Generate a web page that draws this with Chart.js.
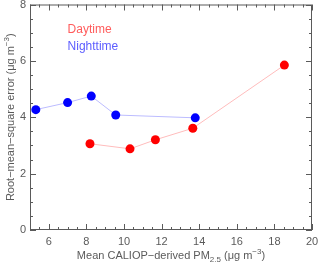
<!DOCTYPE html>
<html>
<head>
<meta charset="utf-8">
<script src="https://cdn.jsdelivr.net/npm/chart.js@4.4.0/dist/chart.umd.js"></script>
<style>
  html, body { margin: 0; padding: 0; background: #fff; }
  #wrap { width: 320px; height: 263px; position: relative; }
</style>
</head>
<body>
<div id="wrap"><canvas id="c"></canvas></div>
<script>
// values
const dayX = [8.19, 10.32, 11.67, 13.66, 18.53];
const dayY = [3.06, 2.88, 3.20, 3.61, 5.85];
const nightX = [5.31, 7.0, 8.26, 9.56, 13.79];
const nightY = [4.27, 4.52, 4.75, 4.08, 3.98];
const xTicks = [6, 8, 10, 12, 14, 16, 18, 20];
const yTicks = [0, 2, 4, 6, 8];
const xRange = [5, 20], yRange = [0, 8];
const minorStep = 0.5;
const legendItems = [['Daytime', '#ff5c5c', 7.0, 7.1], ['Nighttime', '#5c5cff', 7.0, 6.5]];

const FONT = '"Liberation Sans", Arial, sans-serif';
const AXIS = '#5a5a5a';

const pts = (xs, ys) => xs.map((x, i) => ({ x, y: ys[i] }));

// frame, inward ticks on all four sides, legend text and axis titles
const decor = {
    id: 'decor',
    afterDraw(chart) {
        const { ctx, chartArea: a, scales: { x, y } } = chart;
        ctx.save();
        ctx.strokeStyle = AXIS; ctx.lineWidth = 1;
        ctx.strokeRect(a.left + 0.5, a.top + 0.5, a.right - a.left - 1, a.bottom - a.top - 1);
        ctx.beginPath();
        for (let v = xRange[0]; v <= xRange[1] + 1e-9; v += minorStep) {
            const px = Math.round(x.getPixelForValue(v)) + 0.5;
            const len = v % 2 === 0 ? 6 : 3;
            ctx.moveTo(px, a.bottom); ctx.lineTo(px, a.bottom - len);
            ctx.moveTo(px, a.top); ctx.lineTo(px, a.top + len);
        }
        for (let v = yRange[0]; v <= yRange[1] + 1e-9; v += minorStep) {
            const py = Math.round(y.getPixelForValue(v)) + 0.5;
            const len = v % 2 === 0 ? 6 : 3;
            ctx.moveTo(a.left, py); ctx.lineTo(a.left + len, py);
            ctx.moveTo(a.right, py); ctx.lineTo(a.right - len, py);
        }
        ctx.stroke();

        ctx.font = '12px ' + FONT; ctx.textAlign = 'left'; ctx.textBaseline = 'middle';
        legendItems.forEach(([t, c, lx, ly]) => {
            ctx.fillStyle = c;
            ctx.fillText(t, x.getPixelForValue(lx), y.getPixelForValue(ly));
        });

        // x title with sub/superscripts
        ctx.fillStyle = AXIS; ctx.textBaseline = 'alphabetic';
        const main = '11px ' + FONT, small = '8px ' + FONT;
        const parts = [['Mean CALIOP\u2212derived PM', main, 0], ['2.5', small, 3], [' (\u03bcg m', main, 0], ['\u22123', small, -5], [')', main, 0]];
        const width = (ps) => ps.reduce((s, [t, f]) => { ctx.font = f; return s + ctx.measureText(t).width; }, 0);
        let cx = (a.left + a.right) / 2 - width(parts) / 2;
        parts.forEach(([t, f, dy]) => { ctx.font = f; ctx.fillText(t, cx, 259 + dy); cx += ctx.measureText(t).width; });

        // y title, rotated
        const yparts = [['Root\u2212mean\u2212square error (\u03bcg m', main, 0], ['\u22123', small, -5], [')', main, 0]];
        ctx.translate(14, (a.top + a.bottom) / 2);
        ctx.rotate(-Math.PI / 2);
        cx = -width(yparts) / 2;
        yparts.forEach(([t, f, dy]) => { ctx.font = f; ctx.fillText(t, cx, dy); cx += ctx.measureText(t).width; });
        ctx.restore();
    }
};

new Chart(document.getElementById('c'), {
    type: 'scatter',
    data: {
        datasets: [
            { label: 'Daytime', data: pts(dayX, dayY), showLine: true, borderColor: '#ffbcbc', borderWidth: 1,
              pointBackgroundColor: '#ff0000', pointBorderColor: '#ff0000', pointRadius: 4.5, pointBorderWidth: 0 },
            { label: 'Nighttime', data: pts(nightX, nightY), showLine: true, borderColor: '#bcbcff', borderWidth: 1,
              pointBackgroundColor: '#0000ff', pointBorderColor: '#0000ff', pointRadius: 4.5, pointBorderWidth: 0 },
        ],
    },
    options: {
        responsive: true, maintainAspectRatio: false, animation: false,
        layout: { padding: { top: 3, right: 8, left: 0, bottom: 0 } },
        plugins: { legend: { display: false }, tooltip: { enabled: false } },
        scales: {
            x: {
                type: 'linear', min: xRange[0], max: xRange[1],
                afterBuildTicks: (s) => { s.ticks = xTicks.map((v) => ({ value: v })); },
                afterFit: (s) => { s.height = 33; s.paddingLeft = 0; s.paddingRight = 0; },
                grid: { display: false, drawTicks: false }, border: { display: false },
                ticks: { color: AXIS, font: { family: FONT, size: 11 }, padding: 5, maxRotation: 0, autoSkip: false },
            },
            y: {
                type: 'linear', min: yRange[0], max: yRange[1],
                afterBuildTicks: (s) => { s.ticks = yTicks.map((v) => ({ value: v })); },
                afterFit: (s) => { s.width = 30; s.paddingTop = 0; s.paddingBottom = 0; },
                grid: { display: false, drawTicks: false }, border: { display: false },
                ticks: { color: AXIS, font: { family: FONT, size: 11 }, padding: 4, autoSkip: false },
            },
        },
    },
    plugins: [decor],
});
</script>
</body>
</html>
